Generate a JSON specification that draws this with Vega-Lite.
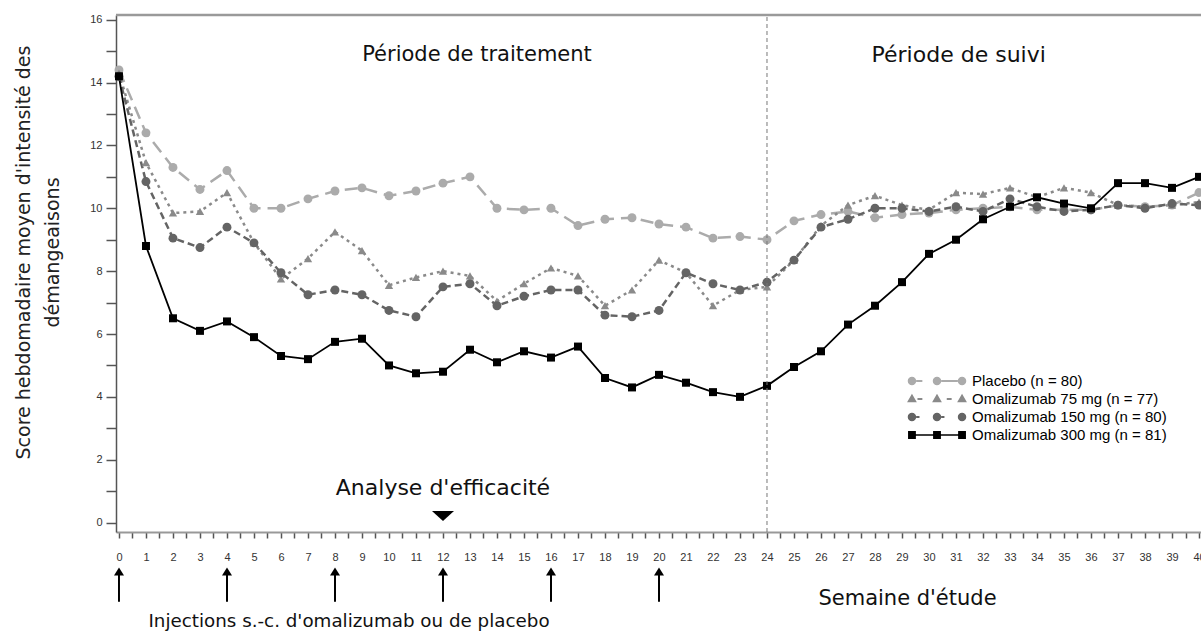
{
  "$schema": "https://vega.github.io/schema/vega-lite/v6.json",
  "width": 1085,
  "height": 517,
  "autosize": {"type": "none"},
  "padding": {"left": 116, "top": 15, "right": 0, "bottom": 103},
  "background": "white",
  "config": {"view": {"stroke": null}, "font": "Liberation Sans", "axis": {"labelOverlap": false, "labelFlush": false}},
  "datasets": {
    "scores": [
      {"week":0,"series":"Placebo (n = 80)","score":14.4},{"week":1,"series":"Placebo (n = 80)","score":12.4},{"week":2,"series":"Placebo (n = 80)","score":11.3},{"week":3,"series":"Placebo (n = 80)","score":10.6},{"week":4,"series":"Placebo (n = 80)","score":11.2},{"week":5,"series":"Placebo (n = 80)","score":10.0},{"week":6,"series":"Placebo (n = 80)","score":10.0},{"week":7,"series":"Placebo (n = 80)","score":10.3},{"week":8,"series":"Placebo (n = 80)","score":10.55},{"week":9,"series":"Placebo (n = 80)","score":10.65},{"week":10,"series":"Placebo (n = 80)","score":10.4},{"week":11,"series":"Placebo (n = 80)","score":10.55},{"week":12,"series":"Placebo (n = 80)","score":10.8},{"week":13,"series":"Placebo (n = 80)","score":11.0},{"week":14,"series":"Placebo (n = 80)","score":10.0},{"week":15,"series":"Placebo (n = 80)","score":9.95},{"week":16,"series":"Placebo (n = 80)","score":10.0},{"week":17,"series":"Placebo (n = 80)","score":9.45},{"week":18,"series":"Placebo (n = 80)","score":9.65},{"week":19,"series":"Placebo (n = 80)","score":9.7},{"week":20,"series":"Placebo (n = 80)","score":9.5},{"week":21,"series":"Placebo (n = 80)","score":9.4},{"week":22,"series":"Placebo (n = 80)","score":9.05},{"week":23,"series":"Placebo (n = 80)","score":9.1},{"week":24,"series":"Placebo (n = 80)","score":9.0},{"week":25,"series":"Placebo (n = 80)","score":9.6},{"week":26,"series":"Placebo (n = 80)","score":9.8},{"week":27,"series":"Placebo (n = 80)","score":9.9},{"week":28,"series":"Placebo (n = 80)","score":9.7},{"week":29,"series":"Placebo (n = 80)","score":9.8},{"week":30,"series":"Placebo (n = 80)","score":9.85},{"week":31,"series":"Placebo (n = 80)","score":9.95},{"week":32,"series":"Placebo (n = 80)","score":10.0},{"week":33,"series":"Placebo (n = 80)","score":10.05},{"week":34,"series":"Placebo (n = 80)","score":9.95},{"week":35,"series":"Placebo (n = 80)","score":9.95},{"week":36,"series":"Placebo (n = 80)","score":9.95},{"week":37,"series":"Placebo (n = 80)","score":10.1},{"week":38,"series":"Placebo (n = 80)","score":10.05},{"week":39,"series":"Placebo (n = 80)","score":10.1},{"week":40,"series":"Placebo (n = 80)","score":10.5},
      {"week":0,"series":"Omalizumab 75 mg (n = 77)","score":14.3},{"week":1,"series":"Omalizumab 75 mg (n = 77)","score":11.45},{"week":2,"series":"Omalizumab 75 mg (n = 77)","score":9.85},{"week":3,"series":"Omalizumab 75 mg (n = 77)","score":9.9},{"week":4,"series":"Omalizumab 75 mg (n = 77)","score":10.5},{"week":5,"series":"Omalizumab 75 mg (n = 77)","score":8.9},{"week":6,"series":"Omalizumab 75 mg (n = 77)","score":7.75},{"week":7,"series":"Omalizumab 75 mg (n = 77)","score":8.4},{"week":8,"series":"Omalizumab 75 mg (n = 77)","score":9.25},{"week":9,"series":"Omalizumab 75 mg (n = 77)","score":8.65},{"week":10,"series":"Omalizumab 75 mg (n = 77)","score":7.55},{"week":11,"series":"Omalizumab 75 mg (n = 77)","score":7.8},{"week":12,"series":"Omalizumab 75 mg (n = 77)","score":8.0},{"week":13,"series":"Omalizumab 75 mg (n = 77)","score":7.85},{"week":14,"series":"Omalizumab 75 mg (n = 77)","score":7.05},{"week":15,"series":"Omalizumab 75 mg (n = 77)","score":7.6},{"week":16,"series":"Omalizumab 75 mg (n = 77)","score":8.1},{"week":17,"series":"Omalizumab 75 mg (n = 77)","score":7.85},{"week":18,"series":"Omalizumab 75 mg (n = 77)","score":6.9},{"week":19,"series":"Omalizumab 75 mg (n = 77)","score":7.4},{"week":20,"series":"Omalizumab 75 mg (n = 77)","score":8.35},{"week":21,"series":"Omalizumab 75 mg (n = 77)","score":7.95},{"week":22,"series":"Omalizumab 75 mg (n = 77)","score":6.9},{"week":23,"series":"Omalizumab 75 mg (n = 77)","score":7.4},{"week":24,"series":"Omalizumab 75 mg (n = 77)","score":7.5},{"week":25,"series":"Omalizumab 75 mg (n = 77)","score":8.35},{"week":26,"series":"Omalizumab 75 mg (n = 77)","score":9.45},{"week":27,"series":"Omalizumab 75 mg (n = 77)","score":10.1},{"week":28,"series":"Omalizumab 75 mg (n = 77)","score":10.4},{"week":29,"series":"Omalizumab 75 mg (n = 77)","score":10.1},{"week":30,"series":"Omalizumab 75 mg (n = 77)","score":9.95},{"week":31,"series":"Omalizumab 75 mg (n = 77)","score":10.5},{"week":32,"series":"Omalizumab 75 mg (n = 77)","score":10.45},{"week":33,"series":"Omalizumab 75 mg (n = 77)","score":10.65},{"week":34,"series":"Omalizumab 75 mg (n = 77)","score":10.35},{"week":35,"series":"Omalizumab 75 mg (n = 77)","score":10.65},{"week":36,"series":"Omalizumab 75 mg (n = 77)","score":10.5},{"week":37,"series":"Omalizumab 75 mg (n = 77)","score":10.1},{"week":38,"series":"Omalizumab 75 mg (n = 77)","score":10.05},{"week":39,"series":"Omalizumab 75 mg (n = 77)","score":10.1},{"week":40,"series":"Omalizumab 75 mg (n = 77)","score":10.2},
      {"week":0,"series":"Omalizumab 150 mg (n = 80)","score":14.2},{"week":1,"series":"Omalizumab 150 mg (n = 80)","score":10.85},{"week":2,"series":"Omalizumab 150 mg (n = 80)","score":9.05},{"week":3,"series":"Omalizumab 150 mg (n = 80)","score":8.75},{"week":4,"series":"Omalizumab 150 mg (n = 80)","score":9.4},{"week":5,"series":"Omalizumab 150 mg (n = 80)","score":8.9},{"week":6,"series":"Omalizumab 150 mg (n = 80)","score":7.95},{"week":7,"series":"Omalizumab 150 mg (n = 80)","score":7.25},{"week":8,"series":"Omalizumab 150 mg (n = 80)","score":7.4},{"week":9,"series":"Omalizumab 150 mg (n = 80)","score":7.25},{"week":10,"series":"Omalizumab 150 mg (n = 80)","score":6.75},{"week":11,"series":"Omalizumab 150 mg (n = 80)","score":6.55},{"week":12,"series":"Omalizumab 150 mg (n = 80)","score":7.5},{"week":13,"series":"Omalizumab 150 mg (n = 80)","score":7.6},{"week":14,"series":"Omalizumab 150 mg (n = 80)","score":6.9},{"week":15,"series":"Omalizumab 150 mg (n = 80)","score":7.2},{"week":16,"series":"Omalizumab 150 mg (n = 80)","score":7.4},{"week":17,"series":"Omalizumab 150 mg (n = 80)","score":7.4},{"week":18,"series":"Omalizumab 150 mg (n = 80)","score":6.6},{"week":19,"series":"Omalizumab 150 mg (n = 80)","score":6.55},{"week":20,"series":"Omalizumab 150 mg (n = 80)","score":6.75},{"week":21,"series":"Omalizumab 150 mg (n = 80)","score":7.95},{"week":22,"series":"Omalizumab 150 mg (n = 80)","score":7.6},{"week":23,"series":"Omalizumab 150 mg (n = 80)","score":7.4},{"week":24,"series":"Omalizumab 150 mg (n = 80)","score":7.65},{"week":25,"series":"Omalizumab 150 mg (n = 80)","score":8.35},{"week":26,"series":"Omalizumab 150 mg (n = 80)","score":9.4},{"week":27,"series":"Omalizumab 150 mg (n = 80)","score":9.65},{"week":28,"series":"Omalizumab 150 mg (n = 80)","score":10.0},{"week":29,"series":"Omalizumab 150 mg (n = 80)","score":10.0},{"week":30,"series":"Omalizumab 150 mg (n = 80)","score":9.9},{"week":31,"series":"Omalizumab 150 mg (n = 80)","score":10.05},{"week":32,"series":"Omalizumab 150 mg (n = 80)","score":9.9},{"week":33,"series":"Omalizumab 150 mg (n = 80)","score":10.3},{"week":34,"series":"Omalizumab 150 mg (n = 80)","score":10.05},{"week":35,"series":"Omalizumab 150 mg (n = 80)","score":9.9},{"week":36,"series":"Omalizumab 150 mg (n = 80)","score":9.95},{"week":37,"series":"Omalizumab 150 mg (n = 80)","score":10.1},{"week":38,"series":"Omalizumab 150 mg (n = 80)","score":10.0},{"week":39,"series":"Omalizumab 150 mg (n = 80)","score":10.15},{"week":40,"series":"Omalizumab 150 mg (n = 80)","score":10.1},
      {"week":0,"series":"Omalizumab 300 mg (n = 81)","score":14.2},{"week":1,"series":"Omalizumab 300 mg (n = 81)","score":8.8},{"week":2,"series":"Omalizumab 300 mg (n = 81)","score":6.5},{"week":3,"series":"Omalizumab 300 mg (n = 81)","score":6.1},{"week":4,"series":"Omalizumab 300 mg (n = 81)","score":6.4},{"week":5,"series":"Omalizumab 300 mg (n = 81)","score":5.9},{"week":6,"series":"Omalizumab 300 mg (n = 81)","score":5.3},{"week":7,"series":"Omalizumab 300 mg (n = 81)","score":5.2},{"week":8,"series":"Omalizumab 300 mg (n = 81)","score":5.75},{"week":9,"series":"Omalizumab 300 mg (n = 81)","score":5.85},{"week":10,"series":"Omalizumab 300 mg (n = 81)","score":5.0},{"week":11,"series":"Omalizumab 300 mg (n = 81)","score":4.75},{"week":12,"series":"Omalizumab 300 mg (n = 81)","score":4.8},{"week":13,"series":"Omalizumab 300 mg (n = 81)","score":5.5},{"week":14,"series":"Omalizumab 300 mg (n = 81)","score":5.1},{"week":15,"series":"Omalizumab 300 mg (n = 81)","score":5.45},{"week":16,"series":"Omalizumab 300 mg (n = 81)","score":5.25},{"week":17,"series":"Omalizumab 300 mg (n = 81)","score":5.6},{"week":18,"series":"Omalizumab 300 mg (n = 81)","score":4.6},{"week":19,"series":"Omalizumab 300 mg (n = 81)","score":4.3},{"week":20,"series":"Omalizumab 300 mg (n = 81)","score":4.7},{"week":21,"series":"Omalizumab 300 mg (n = 81)","score":4.45},{"week":22,"series":"Omalizumab 300 mg (n = 81)","score":4.15},{"week":23,"series":"Omalizumab 300 mg (n = 81)","score":4.0},{"week":24,"series":"Omalizumab 300 mg (n = 81)","score":4.35},{"week":25,"series":"Omalizumab 300 mg (n = 81)","score":4.95},{"week":26,"series":"Omalizumab 300 mg (n = 81)","score":5.45},{"week":27,"series":"Omalizumab 300 mg (n = 81)","score":6.3},{"week":28,"series":"Omalizumab 300 mg (n = 81)","score":6.9},{"week":29,"series":"Omalizumab 300 mg (n = 81)","score":7.65},{"week":30,"series":"Omalizumab 300 mg (n = 81)","score":8.55},{"week":31,"series":"Omalizumab 300 mg (n = 81)","score":9.0},{"week":32,"series":"Omalizumab 300 mg (n = 81)","score":9.65},{"week":33,"series":"Omalizumab 300 mg (n = 81)","score":10.05},{"week":34,"series":"Omalizumab 300 mg (n = 81)","score":10.35},{"week":35,"series":"Omalizumab 300 mg (n = 81)","score":10.15},{"week":36,"series":"Omalizumab 300 mg (n = 81)","score":10.0},{"week":37,"series":"Omalizumab 300 mg (n = 81)","score":10.8},{"week":38,"series":"Omalizumab 300 mg (n = 81)","score":10.8},{"week":39,"series":"Omalizumab 300 mg (n = 81)","score":10.65},{"week":40,"series":"Omalizumab 300 mg (n = 81)","score":11.0}
    ],
    "injections": [{"week":0},{"week":4},{"week":8},{"week":12},{"week":16},{"week":20}]
  },
  "layer": [
    {
      "encoding": {
        "x": {
          "field": "week", "type": "quantitative",
          "scale": {"domain": [-0.11, 40.074], "nice": false, "zero": false},
          "axis": {
            "values": [0,0.5,1,1.5,2,2.5,3,3.5,4,4.5,5,5.5,6,6.5,7,7.5,8,8.5,9,9.5,10,10.5,11,11.5,12,12.5,13,13.5,14,14.5,15,15.5,16,16.5,17,17.5,18,18.5,19,19.5,20,20.5,21,21.5,22,22.5,23,23.5,24,24.5,25,25.5,26,26.5,27,27.5,28,28.5,29,29.5,30,30.5,31,31.5,32,32.5,33,33.5,34,34.5,35,35.5,36,36.5,37,37.5,38,38.5,39,39.5,40],
            "tickCount": 500,
            "title": "Semaine d'étude",
            "titleX": 791, "titleY": 66, "titleBaseline": "middle", "titleAlign": "center",
            "titleFont": "DejaVu Sans", "titleFontSize": 21, "titleFontWeight": "normal", "titleColor": "#111111",
            "labelExpr": "datum.value % 1 === 0 ? format(datum.value, 'd') : ''",
            "labelFont": "Liberation Sans", "labelFontSize": 11, "labelColor": "#333333",
            "labelPadding": 13, "labelOverlap": false, "labelFlush": false,
            "tickSize": 6, "tickColor": "#555555", "tickWidth": 1.5,
            "domainColor": "#999999", "domainWidth": 2, "grid": false,
            "encode": {"ticks": {"update": {"y2": {"signal": "datum.value % 1 === 0 ? 6 : 3"}}}}
          }
        },
        "y": {
          "field": "score", "type": "quantitative",
          "scale": {"domain": [-0.3, 16.15], "nice": false, "zero": false},
          "axis": {
            "values": [0,1,2,3,4,5,6,7,8,9,10,11,12,13,14,15,16],
            "tickCount": 500,
            "title": ["Score hebdomadaire  moyen d'intensité des", "démangeaisons"],
            "titleX": -93, "titleY": 237, "titleBaseline": "middle", "titleAlign": "center", "titleAngle": -90,
            "titleFont": "DejaVu Sans", "titleFontSize": 19, "titleLineHeight": 29, "titleFontWeight": "normal", "titleColor": "#222222",
            "labelExpr": "datum.value % 2 === 0 ? format(datum.value, 'd') : ''",
            "labelFont": "Liberation Sans", "labelFontSize": 11, "labelColor": "#333333",
            "labelPadding": 4, "labelOverlap": false,
            "tickSize": 10, "tickColor": "#555555", "tickWidth": 1.5,
            "domainColor": "#555555", "domainWidth": 1.5, "grid": false,
            "encode": {"ticks": {"update": {"x2": {"signal": "datum.value % 2 === 0 ? -10 : -5"}}}}
          }
        }
      },
      "layer": [
        {
          "data": {"name": "scores"},
          "transform": [{"filter": {"field": "series", "equal": "Placebo (n = 80)"}}],
          "mark": {"type": "line", "color": "#ababab", "strokeDash": [13, 7], "strokeWidth": 2.5}
        },
        {
          "data": {"name": "scores"},
          "transform": [{"filter": {"field": "series", "equal": "Omalizumab 75 mg (n = 77)"}}],
          "mark": {"type": "line", "color": "#8a8a8a", "strokeDash": [3, 4], "strokeWidth": 2.5}
        },
        {
          "data": {"name": "scores"},
          "transform": [{"filter": {"field": "series", "equal": "Omalizumab 150 mg (n = 80)"}}],
          "mark": {"type": "line", "color": "#646464", "strokeDash": [7, 4], "strokeWidth": 2.5}
        },
        {
          "data": {"name": "scores"},
          "transform": [{"filter": {"field": "series", "equal": "Omalizumab 300 mg (n = 81)"}}],
          "mark": {"type": "line", "color": "#000000", "strokeWidth": 1.8}
        },
        {
          "data": {"name": "scores"},
          "transform": [{"filter": {"field": "series", "equal": "Placebo (n = 80)"}}],
          "mark": {"type": "point", "filled": true, "opacity": 1, "color": "#ababab", "shape": "circle", "size": 80}
        },
        {
          "data": {"name": "scores"},
          "transform": [{"filter": {"field": "series", "equal": "Omalizumab 75 mg (n = 77)"}}],
          "mark": {"type": "point", "filled": true, "opacity": 1, "color": "#8a8a8a", "shape": "triangle-up", "size": 70}
        },
        {
          "data": {"name": "scores"},
          "transform": [{"filter": {"field": "series", "equal": "Omalizumab 150 mg (n = 80)"}}],
          "mark": {"type": "point", "filled": true, "opacity": 1, "color": "#646464", "shape": "circle", "size": 80}
        },
        {
          "data": {"name": "scores"},
          "transform": [{"filter": {"field": "series", "equal": "Omalizumab 300 mg (n = 81)"}}],
          "mark": {"type": "point", "filled": true, "opacity": 1, "color": "#000000", "shape": "square", "size": 64}
        },
        {
          "data": {"name": "scores"},
          "transform": [{"filter": "false"}],
          "mark": {"type": "point", "filled": true, "opacity": 1, "size": 256},
          "encoding": {
            "color": {
              "field": "series", "type": "nominal",
              "scale": {"domain": ["Placebo (n = 80)", "Omalizumab 75 mg (n = 77)", "Omalizumab 150 mg (n = 80)", "Omalizumab 300 mg (n = 81)"], "range": ["#ababab", "#8a8a8a", "#646464", "#000000"]},
              "legend": {"title": null, "orient": "none", "legendX": 813, "legendY": 358, "labelFont": "Liberation Sans", "labelFontSize": 15, "labelColor": "#000000", "labelLimit": 400, "symbolSize": 256, "symbolStrokeWidth": 0, "rowPadding": 2, "labelOffset": 27, "padding": 0}
            },
            "shape": {
              "field": "series", "type": "nominal",
              "scale": {
                "domain": ["Placebo (n = 80)", "Omalizumab 75 mg (n = 77)", "Omalizumab 150 mg (n = 80)", "Omalizumab 300 mg (n = 81)"],
                "range": [
                  "M-2.6,-0.12H-1.83V0.12H-2.6Z M0.53,-0.12H2.6V0.12H0.53Z M-3.66,0A0.53,0.53 0 1,1 -2.6,0A0.53,0.53 0 1,1 -3.66,0Z M-0.53,0A0.53,0.53 0 1,1 0.53,0A0.53,0.53 0 1,1 -0.53,0Z M2.6,0A0.53,0.53 0 1,1 3.66,0A0.53,0.53 0 1,1 2.6,0Z",
                  "M-2.44,-0.12H-1.83V0.12H-2.44Z M1.22,-0.12H1.83V0.12H1.22Z M-3.13,-0.65L-2.52,0.41L-3.74,0.41Z M0,-0.65L0.61,0.41L-0.61,0.41Z M3.13,-0.65L3.74,0.41L2.52,0.41Z",
                  "M-2.6,-0.12H-2.19V0.12H-2.6Z M0.53,-0.12H0.93V0.12H0.53Z M-3.66,0A0.53,0.53 0 1,1 -2.6,0A0.53,0.53 0 1,1 -3.66,0Z M-0.53,0A0.53,0.53 0 1,1 0.53,0A0.53,0.53 0 1,1 -0.53,0Z M2.6,0A0.53,0.53 0 1,1 3.66,0A0.53,0.53 0 1,1 2.6,0Z",
                  "M-3.13,-0.1H3.13V0.1H-3.13Z M-3.62,-0.49H-2.64V0.49H-3.62Z M-0.49,-0.49H0.49V0.49H-0.49Z M2.64,-0.49H3.62V0.49H2.64Z"
                ]
              },
              "legend": {"title": null, "orient": "none", "legendX": 813, "legendY": 358, "labelFont": "Liberation Sans", "labelFontSize": 15, "labelColor": "#000000", "labelLimit": 400, "symbolSize": 256, "symbolStrokeWidth": 0, "rowPadding": 2, "labelOffset": 27, "padding": 0}
            }
          }
        }
      ]
    },
    {
      "data": {"values": [{}]},
      "mark": {"type": "rule", "color": "#9a9a9a", "strokeWidth": 2.5},
      "encoding": {"x": {"datum": -0.11}, "x2": {"datum": 40.074}, "y": {"datum": 16.15}}
    },
    {
      "data": {"values": [{}]},
      "mark": {"type": "rule", "color": "#777777", "strokeDash": [4, 3], "strokeWidth": 1},
      "encoding": {"x": {"datum": 24}, "y": {"datum": -0.3}, "y2": {"datum": 16.15}}
    },
    {
      "data": {"values": [{}]},
      "mark": {"type": "text", "text": "Période de traitement", "font": "DejaVu Sans", "fontSize": 21, "color": "#111111", "align": "center", "baseline": "middle"},
      "encoding": {"x": {"datum": 13.26}, "y": {"datum": 14.88}}
    },
    {
      "data": {"values": [{}]},
      "mark": {"type": "text", "text": "Période de suivi", "font": "DejaVu Sans", "fontSize": 22, "color": "#111111", "align": "center", "baseline": "middle"},
      "encoding": {"x": {"datum": 31.1}, "y": {"datum": 14.88}}
    },
    {
      "data": {"values": [{}]},
      "mark": {"type": "text", "text": "Analyse d'efficacité", "font": "DejaVu Sans", "fontSize": 22, "color": "#111111", "align": "center", "baseline": "middle"},
      "encoding": {"x": {"datum": 12}, "y": {"datum": 1.1}}
    },
    {
      "data": {"values": [{}]},
      "mark": {"type": "point", "filled": true, "opacity": 1, "color": "#000000", "shape": "M-1,-0.45L1,-0.45L0,0.45Z", "size": 484},
      "encoding": {"x": {"datum": 12}, "y": {"datum": 0.21}}
    },
    {
      "data": {"name": "injections"},
      "mark": {"type": "rule", "color": "#000000", "strokeWidth": 2},
      "encoding": {
        "x": {"field": "week", "type": "quantitative"},
        "y": {"datum": -1.65},
        "y2": {"datum": -2.52}
      }
    },
    {
      "data": {"name": "injections"},
      "mark": {"type": "point", "filled": true, "opacity": 1, "color": "#000000", "shape": "M0,-0.8L1,0.8L-1,0.8Z", "size": 100},
      "encoding": {
        "x": {"field": "week", "type": "quantitative"},
        "y": {"datum": -1.56}
      }
    },
    {
      "data": {"values": [{}]},
      "mark": {"type": "text", "text": "Injections s.-c. d'omalizumab ou de placebo", "font": "DejaVu Sans", "fontSize": 18.3, "color": "#111111", "align": "center", "baseline": "middle"},
      "encoding": {"x": {"datum": 8.52}, "y": {"datum": -3.16}}
    }
  ]
}
